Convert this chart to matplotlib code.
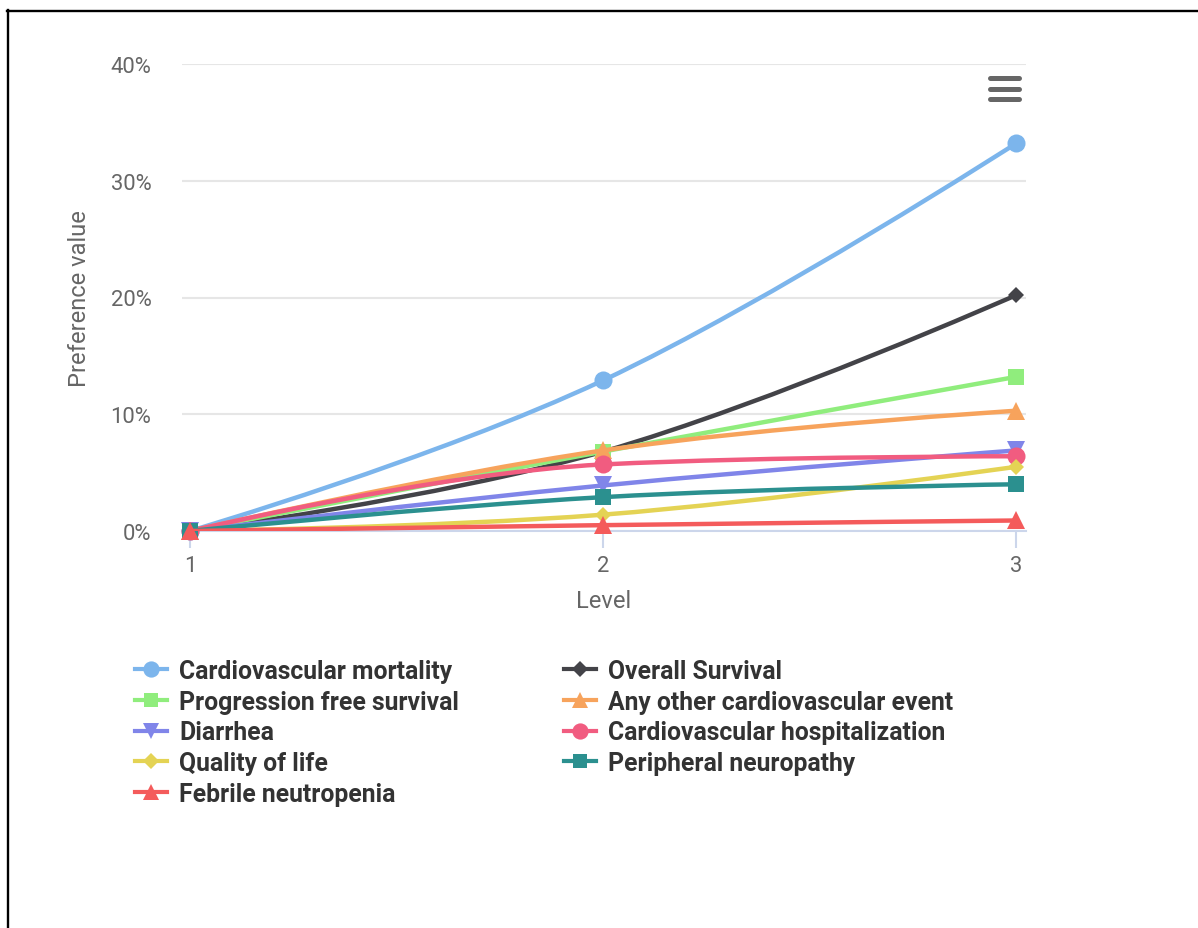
import matplotlib

matplotlib.use("Agg")

import matplotlib.pyplot as plt
from matplotlib.lines import Line2D
from matplotlib.patches import PathPatch
from matplotlib.path import Path
from matplotlib.ticker import FuncFormatter

W, H = 1198, 929  # canvas size in pixels (dpi 100)

levels = [1, 2, 3]
level_labels = ["1", "2", "3"]

cardiovascular_mortality = [0.0, 12.9, 33.2]
overall_survival = [0.0, 6.8, 20.2]
progression_free_survival = [0.0, 6.8, 13.2]
other_cardiovascular_event = [0.0, 6.9, 10.3]
diarrhea = [0.0, 3.9, 6.9]
cardiovascular_hospitalization = [0.0, 5.7, 6.4]
quality_of_life = [0.0, 1.4, 5.5]
peripheral_neuropathy = [0.0, 2.9, 4.0]
febrile_neutropenia = [0.0, 0.5, 0.9]

series_names = [
    "Cardiovascular mortality",
    "Overall Survival",
    "Progression free survival",
    "Any other cardiovascular event",
    "Diarrhea",
    "Cardiovascular hospitalization",
    "Quality of life",
    "Peripheral neuropathy",
    "Febrile neutropenia",
]
series_values = [
    cardiovascular_mortality,
    overall_survival,
    progression_free_survival,
    other_cardiovascular_event,
    diarrhea,
    cardiovascular_hospitalization,
    quality_of_life,
    peripheral_neuropathy,
    febrile_neutropenia,
]

# highcharts-ish default palette / marker cycle
colors = ["#7cb5ec", "#434348", "#90ed7d", "#f7a35c", "#8085e9",
          "#f15c80", "#e4d354", "#2b908f", "#f45b5b"]
markers = ["o", "D", "s", "^", "v", "o", "D", "s", "^"]
marker_size = {"o": 13.0, "D": 8.6, "s": 11.5, "^": 12.5, "v": 12.5}

plt.rcParams["font.family"] = ["Roboto", "DejaVu Sans"]


def px(x, y):
    """Pixel position (from top-left) -> figure fraction."""
    return x / W, 1 - y / H


def spline_path(xs, ys, smoothing=1.5):
    """Cubic bezier through the points, same control-point rule as a
    highcharts 'spline' series."""
    verts = [(xs[0], ys[0])]
    codes = [Path.MOVETO]
    right = (xs[0], ys[0])
    n = len(xs)
    denom = smoothing + 1
    for i in range(1, n):
        x, y = xs[i], ys[i]
        if i < n - 1:
            lx, ly = xs[i - 1], ys[i - 1]
            nx, ny = xs[i + 1], ys[i + 1]
            lcx = (smoothing * x + lx) / denom
            lcy = (smoothing * y + ly) / denom
            rcx = (smoothing * x + nx) / denom
            rcy = (smoothing * y + ny) / denom
            if rcx != lcx:
                corr = (rcy - lcy) * (rcx - x) / (rcx - lcx) + y - rcy
                lcy += corr
                rcy += corr
            if lcy > ly and lcy > y:
                lcy = max(ly, y)
                rcy = 2 * y - lcy
            elif lcy < ly and lcy < y:
                lcy = min(ly, y)
                rcy = 2 * y - lcy
            if rcy > ny and rcy > y:
                rcy = max(ny, y)
                lcy = 2 * y - rcy
            elif rcy < ny and rcy < y:
                rcy = min(ny, y)
                lcy = 2 * y - rcy
            left, next_right = (lcx, lcy), (rcx, rcy)
        else:
            left, next_right = (x, y), (x, y)
        verts += [right, left, (x, y)]
        codes += [Path.CURVE4] * 3
        right = next_right
    return Path(verts, codes)


fig = plt.figure(figsize=(W / 100, H / 100), dpi=100)

# plot area: 182..1026 px wide, 65..532 px tall
l, t = px(182, 65)
r, b = px(1026, 532)
ax = fig.add_axes([l, b, r - l, t - b])
ax.set_xlim(1 - 8 / 417, 3 + 10 / 417)
ax.set_ylim(0, 40)

for k, (name, vals) in enumerate(zip(series_names, series_values)):
    z = 3 + k
    ax.add_patch(PathPatch(spline_path(levels, vals), facecolor="none",
                           edgecolor=colors[k], lw=3.2, zorder=z,
                           capstyle="round", joinstyle="round"))
    ax.plot(levels, vals, linestyle="none", marker=markers[k],
            markersize=marker_size[markers[k]], color=colors[k],
            markeredgewidth=0, zorder=z + 0.5, clip_on=False)

ax.set_yticks([0, 10, 20, 30, 40])
ax.yaxis.set_major_formatter(FuncFormatter(lambda v, _: f"{v:.0f}%"))
ax.set_xticks(levels)
ax.set_xticklabels(level_labels)

ax.grid(axis="y", color="#e6e6e6", lw=1.5)
ax.set_axisbelow(True)
for side in ("left", "right", "top"):
    ax.spines[side].set_visible(False)
ax.spines["bottom"].set_color("#ccd6eb")
ax.spines["bottom"].set_linewidth(1.5)
ax.spines["bottom"].set_zorder(2.5)

ax.tick_params(axis="y", length=0, pad=22, labelsize=15.8, labelcolor="#666666")
ax.tick_params(axis="x", length=12, width=1.5, color="#ccd6eb", pad=5,
               labelsize=15.8, labelcolor="#666666")

ax.set_xlabel("Level", fontsize=17, color="#666666")
ax.xaxis.label.set_verticalalignment("center")
ax.xaxis.set_label_coords(0.5, -(602 - 532) / 467)
ax.set_ylabel("Preference value", fontsize=17, color="#666666")
ax.yaxis.label.set_verticalalignment("center")
ax.yaxis.set_label_coords((80 - 182) / 844, 0.5)

# legend, two columns filled row by row
cap = 0.711 * 24.7  # cap height of the legend font in px
for k, name in enumerate(series_names):
    row, col = divmod(k, 2)
    y = 670 + row * 30.8
    x0 = 135 if col == 0 else 564
    fig.add_artist(Line2D([px(x0, 0)[0], px(x0 + 32, 0)[0]], [px(0, y)[1]] * 2,
                          color=colors[k], lw=3.0))
    fig.add_artist(Line2D([px(x0 + 16, 0)[0]], [px(0, y)[1]], color=colors[k],
                          marker=markers[k], markersize=marker_size[markers[k]] * 0.9,
                          markeredgewidth=0, linestyle="none"))
    fig.text(*px(x0 + 44, y + cap / 2), name, fontsize=17.8, fontweight="bold",
             color="#333333", ha="left", va="baseline")

# context-menu button
for yy in (78.5, 89.5, 100):
    fig.add_artist(Line2D([px(989.5, 0)[0], px(1018.5, 0)[0]], [px(0, yy)[1]] * 2,
                          color="#666666", lw=3.6, solid_capstyle="round"))

# frame
fig.add_artist(Line2D([px(7.5, 0)[0]] * 2, [px(0, 10.5)[1], 0], color="black", lw=1.7))
fig.add_artist(Line2D([px(6.5, 0)[0], 1], [px(0, 11.5)[1]] * 2, color="black", lw=1.7))

fig.savefig("out.png", dpi=100)
